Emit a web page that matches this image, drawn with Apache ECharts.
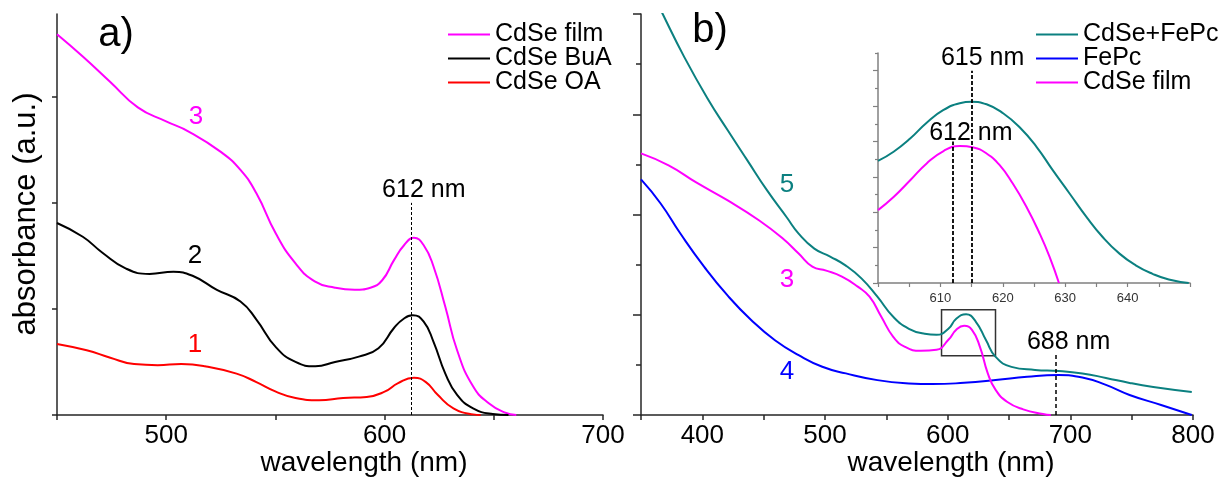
<!DOCTYPE html>
<html>
<head>
<meta charset="utf-8">
<script src="https://cdn.jsdelivr.net/npm/echarts@6/dist/echarts.min.js"></script>
<style>
  html, body { margin: 0; padding: 0; background: #fff; }
  #chart { width: 1224px; height: 482px; }
</style>
</head>
<body>
<div id="chart"></div>
<script>
// ---------- Panel a): CdSe absorption spectra ----------
const filmA_nm  = [450, 461.8, 474.4, 487, 499.7, 510.5, 525, 534, 541.3, 550.2, 559.2, 568, 577.3, 586.3, 593.5, 598.9, 604.3, 608.9, 613.4, 617.9, 622.4, 627.8, 633.2, 640.5, 647.7, 654.9, 660.3];
const filmA_abs = [3.59, 3.38, 3.14, 2.90, 2.77, 2.67, 2.48, 2.31, 2.09, 1.71, 1.43, 1.26, 1.20, 1.18, 1.20, 1.27, 1.46, 1.60, 1.67, 1.60, 1.40, 1.02, 0.61, 0.27, 0.11, 0.025, 0];

const buaA_nm  = [450, 461.8, 470.8, 481.6, 492.4, 503.3, 512.3, 523.2, 534, 541.3, 550.2, 559.2, 568.3, 577.3, 588.2, 597.2, 604.3, 608.9, 612.9, 617.9, 622.4, 627.8, 633.2, 640.5, 649.5, 656.7];
const buaA_abs = [1.81, 1.68, 1.53, 1.38, 1.33, 1.35, 1.31, 1.18, 1.07, 0.90, 0.64, 0.50, 0.46, 0.50, 0.55, 0.63, 0.82, 0.91, 0.94, 0.88, 0.69, 0.39, 0.19, 0.063, 0.01, 0];

const oaA_nm  = [450, 463.6, 474.4, 485.3, 496.1, 506.9, 517.7, 532.2, 541.3, 550.2, 559.2, 570, 581, 591.8, 600, 606.2, 613.4, 618.9, 624.3, 631.5, 640.5, 644];
const oaA_abs = [0.67, 0.61, 0.54, 0.48, 0.47, 0.48, 0.46, 0.39, 0.31, 0.22, 0.16, 0.14, 0.16, 0.17, 0.22, 0.30, 0.35, 0.31, 0.19, 0.063, 0.006, 0];

const peakA_nm = 612;           // first excitonic peak marker
const peakA_top = 2.0;

// ---------- Panel b): CdSe film, FePc and the CdSe+FePc hybrid ----------
const hybridB_nm  = [350, 367.7, 385.3, 404.6, 420.7, 436.7, 452.8, 468.9, 478.5, 491.3, 504.2, 517, 529.9, 542.7, 555.6, 568.4, 581.3, 590.9, 600.6, 607, 615, 623, 631.1, 639.1, 652, 671.2, 690.5, 709.8, 729, 748.3, 767.6, 799];
const hybridB_abs = [4.45, 4.0, 3.57, 3.15, 2.84, 2.54, 2.24, 1.97, 1.81, 1.66, 1.58, 1.49, 1.36, 1.18, 0.98, 0.86, 0.81, 0.80, 0.86, 0.96, 1.005, 0.93, 0.75, 0.58, 0.48, 0.45, 0.44, 0.415, 0.37, 0.32, 0.28, 0.23];

const filmB_nm  = [350, 372.5, 395, 420.7, 446.4, 465.6, 478.5, 489.7, 501, 513.8, 526.7, 536.3, 545.9, 555.6, 565.2, 578.1, 590.9, 600.6, 607, 613.4, 619.8, 626.3, 632.7, 639.1, 648.7, 661.6, 677.7, 684.1];
const filmB_abs = [2.61, 2.49, 2.32, 2.14, 1.94, 1.76, 1.61, 1.48, 1.44, 1.38, 1.28, 1.18, 0.98, 0.78, 0.68, 0.64, 0.65, 0.75, 0.85, 0.89, 0.85, 0.68, 0.415, 0.25, 0.13, 0.056, 0.01, 0];

const fepcB_nm  = [350, 366, 382.1, 401.4, 420.7, 440, 459.2, 478.5, 497.8, 517, 542.7, 568.4, 587.7, 613.4, 639.1, 664.8, 690.5, 709.8, 729, 748.3, 774, 799];
const fepcB_abs = [2.35, 2.11, 1.81, 1.48, 1.19, 0.945, 0.746, 0.597, 0.481, 0.415, 0.348, 0.315, 0.308, 0.321, 0.348, 0.381, 0.398, 0.375, 0.30, 0.20, 0.10, 0.0];

const fepcPeak_nm = 688;        // Q-band of FePc
const fepcPeak_top = 0.6;
const zoomBox_nm  = [595, 639]; // region enlarged in the inset
const zoomBox_abs = [0.59, 1.05];

// ---------- Inset: 600–650 nm detail ----------
const hybridIn_nm  = [600, 602.5, 605.2, 607.8, 610.5, 613.1, 615, 617.4, 620.1, 622.7, 625.4, 628, 630.7, 633.4, 636, 638.7, 641.3, 644, 646.6, 649.8];
const hybridIn_abs = [3.45, 3.71, 4.09, 4.53, 4.89, 5.08, 5.12, 5.05, 4.79, 4.40, 3.85, 3.19, 2.53, 1.87, 1.30, 0.83, 0.50, 0.26, 0.10, 0];
const filmIn_nm  = [600, 602.5, 605.2, 607.8, 610.5, 613.1, 615.3, 617.4, 619.5, 621.6, 623.8, 625.9, 627.5, 629];
const filmIn_abs = [2.06, 2.43, 2.91, 3.38, 3.73, 3.87, 3.83, 3.66, 3.33, 2.81, 2.15, 1.40, 0.74, 0];
const insetPeaks = [{ nm: 612, top: 4.0 }, { nm: 615, top: 6.0 }];

const FONT = '"Liberation Sans", Arial, sans-serif';
const C = { film: '#ff00ff', bua: '#000000', oa: '#ff0000', hybrid: '#0b8080', fepc: '#0000ff' };

const zip = (xs, ys) => xs.map((x, i) => [x, ys[i]]);
const hundreds = lo => v => (v % 100 === 0 && v > lo) ? String(v) : '';

const axisLineMain = { show: true, lineStyle: { color: '#262626', width: 1.5 } };
const axisLineInset = { show: true, lineStyle: { color: '#808080', width: 1.5 } };
const tickLabel = { color: '#000', fontFamily: FONT, fontSize: 26, margin: 8 };

function vLine(nm, top, labelText, opts) {
  return {
    silent: true,
    symbol: ['none', 'none'],
    lineStyle: { color: '#000', type: opts.dash, width: opts.width },
    label: {
      show: true, position: 'end', formatter: labelText,
      color: '#000', fontFamily: FONT, fontSize: 25,
      distance: opts.distance, padding: [0, 0, 0, opts.shift * 2]
    },
    data: [[{ coord: [nm, 0] }, { coord: [nm, top] }]]
  };
}

function curve(name, xi, yi, xs, ys, color, extra) {
  return Object.assign({
    name, type: 'line', xAxisIndex: xi, yAxisIndex: yi,
    data: zip(xs, ys), smooth: 0.5, showSymbol: false, symbol: 'none',
    clip: true, lineStyle: { color, width: 2 }, itemStyle: { color },
    emphasis: { disabled: true }, z: 3
  }, extra || {});
}

const legendText = { color: '#000', fontFamily: FONT, fontSize: 25, lineHeight: 22 };

const chart = echarts.init(document.getElementById('chart'), null, { renderer: 'canvas' });

chart.setOption({
  animation: false,
  backgroundColor: '#fff',
  grid: [
    { left: 57, top: 14, width: 546, height: 401 },
    { left: 641, top: 14, width: 552, height: 401 },
    { left: 878, top: 53, width: 312, height: 230 }
  ],
  xAxis: [
    { gridIndex: 0, type: 'value', min: 450, max: 700, interval: 50,
      axisLine: axisLineMain, splitLine: { show: false },
      axisTick: { show: true, length: 5, lineStyle: { color: '#262626', width: 1.5 } },
      axisLabel: Object.assign({ formatter: hundreds(450) }, tickLabel) },
    { gridIndex: 1, type: 'value', min: 350, max: 800, interval: 50,
      axisLine: axisLineMain, splitLine: { show: false },
      axisTick: { show: true, length: 5, lineStyle: { color: '#262626', width: 1.5 } },
      axisLabel: Object.assign({ formatter: hundreds(350) }, tickLabel) },
    { gridIndex: 2, type: 'value', min: 600, max: 650, interval: 5,
      axisLine: axisLineInset, splitLine: { show: false },
      axisTick: { show: true, length: 4, lineStyle: { color: '#808080', width: 1.2 } },
      axisLabel: { formatter: v => (v % 10 === 0 && v > 600 && v < 650) ? String(v) : '',
                   color: '#333', fontFamily: FONT, fontSize: 13, margin: 9 } }
  ],
  yAxis: [
    { gridIndex: 0, type: 'value', min: 0, max: 3.78,
      axisLine: axisLineMain, splitLine: { show: false }, axisLabel: { show: false },
      axisTick: { show: true, length: 5, customValues: [0, 1, 2, 3], lineStyle: { color: '#262626', width: 1.5 } } },
    { gridIndex: 1, type: 'value', min: 0, max: 4, interval: 1,
      axisLine: axisLineMain, splitLine: { show: false }, axisLabel: { show: false },
      axisTick: { show: true, length: 8, lineStyle: { color: '#262626', width: 1.5 } },
      minorTick: { show: true, splitNumber: 2, length: 5, lineStyle: { color: '#262626', width: 1.5 } } },
    { gridIndex: 2, type: 'value', min: 0, max: 6.5, position: 'left',
      axisLine: axisLineInset, splitLine: { show: false }, axisLabel: { show: false },
      axisTick: { show: true, length: 5, customValues: [0, 1, 2, 3, 4, 5, 6], lineStyle: { color: '#808080', width: 1.2 } } },
    { gridIndex: 2, type: 'value', min: 0, max: 6.5, position: 'left', offset: 0,
      axisLine: { show: false }, splitLine: { show: false }, axisLabel: { show: false },
      axisTick: { show: true, length: 3, customValues: [0.5, 1.5, 2.5, 3.5, 4.5, 5.5, 6.5], lineStyle: { color: '#808080', width: 1.2 } } }
  ],
  legend: [
    { orient: 'vertical', left: 443, top: 17, itemWidth: 42, itemHeight: 2, itemGap: -1,
      icon: 'rect', selectedMode: false, textStyle: legendText,
      data: ['CdSe film', 'CdSe BuA', 'CdSe OA'] },
    { orient: 'vertical', left: 1031, top: 17, itemWidth: 42, itemHeight: 2, itemGap: -1,
      icon: 'rect', selectedMode: false, textStyle: legendText,
      data: ['CdSe+FePc', 'FePc', 'CdSe film'] }
  ],
  series: [
    curve('CdSe film', 0, 0, filmA_nm, filmA_abs, C.film,
      { markLine: vLine(peakA_nm, peakA_top, peakA_nm + ' nm', { dash: [3, 2], width: 1, distance: 0, shift: 13 }) }),
    curve('CdSe BuA', 0, 0, buaA_nm, buaA_abs, C.bua),
    curve('CdSe OA', 0, 0, oaA_nm, oaA_abs, C.oa),

    curve('CdSe+FePc', 1, 1, hybridB_nm, hybridB_abs, C.hybrid, {
      markArea: { silent: true,
        itemStyle: { color: 'rgba(0,0,0,0)', borderColor: '#333', borderWidth: 1.5 },
        data: [[{ coord: [zoomBox_nm[0], zoomBox_abs[1]] }, { coord: [zoomBox_nm[1], zoomBox_abs[0]] }]] } }),
    curve('FePc', 1, 1, fepcB_nm, fepcB_abs, C.fepc,
      { markLine: vLine(fepcPeak_nm, fepcPeak_top, fepcPeak_nm + ' nm', { dash: [4, 3], width: 1.5, distance: 0, shift: 13 }) }),
    curve('CdSe film', 1, 1, filmB_nm, filmB_abs, C.film),

    curve('CdSe+FePc', 2, 2, hybridIn_nm, hybridIn_abs, C.hybrid, {
      markLine: vLine(insetPeaks[1].nm, insetPeaks[1].top, insetPeaks[1].nm + ' nm', { dash: [4, 2], width: 1.8, distance: 0, shift: 11 }) }),
    curve('CdSe film', 2, 2, filmIn_nm, filmIn_abs, C.film, {
      markLine: vLine(insetPeaks[0].nm, insetPeaks[0].top, insetPeaks[0].nm + ' nm', { dash: [4, 2], width: 1.8, distance: -4, shift: 18 }) })
  ],
  graphic: [
    { type: 'text', x: 116, y: 35, silent: true,
      style: { text: 'a)', font: '40px ' + FONT, fill: '#000', align: 'center', verticalAlign: 'middle' } },
    { type: 'text', x: 710, y: 31, silent: true,
      style: { text: 'b)', font: '40px ' + FONT, fill: '#000', align: 'center', verticalAlign: 'middle' } },
    { type: 'text', x: 26, y: 214, rotation: Math.PI / 2, silent: true,
      style: { text: 'absorbance (a.u.)', font: '31px ' + FONT, fill: '#000', align: 'center', verticalAlign: 'middle' } },
    { type: 'text', x: 364, y: 463, silent: true,
      style: { text: 'wavelength (nm)', font: '28px ' + FONT, fill: '#000', align: 'center', verticalAlign: 'middle' } },
    { type: 'text', x: 951, y: 463, silent: true,
      style: { text: 'wavelength (nm)', font: '28px ' + FONT, fill: '#000', align: 'center', verticalAlign: 'middle' } },
    { type: 'text', x: 196, y: 117, silent: true,
      style: { text: '3', font: '26px ' + FONT, fill: C.film, align: 'center', verticalAlign: 'middle' } },
    { type: 'text', x: 195, y: 256, silent: true,
      style: { text: '2', font: '26px ' + FONT, fill: C.bua, align: 'center', verticalAlign: 'middle' } },
    { type: 'text', x: 195, y: 345, silent: true,
      style: { text: '1', font: '26px ' + FONT, fill: C.oa, align: 'center', verticalAlign: 'middle' } },
    { type: 'text', x: 787, y: 185, silent: true,
      style: { text: '5', font: '26px ' + FONT, fill: C.hybrid, align: 'center', verticalAlign: 'middle' } },
    { type: 'text', x: 787, y: 280, silent: true,
      style: { text: '3', font: '26px ' + FONT, fill: C.film, align: 'center', verticalAlign: 'middle' } },
    { type: 'text', x: 787, y: 372, silent: true,
      style: { text: '4', font: '26px ' + FONT, fill: C.fepc, align: 'center', verticalAlign: 'middle' } }
  ]
});
</script>
</body>
</html>
